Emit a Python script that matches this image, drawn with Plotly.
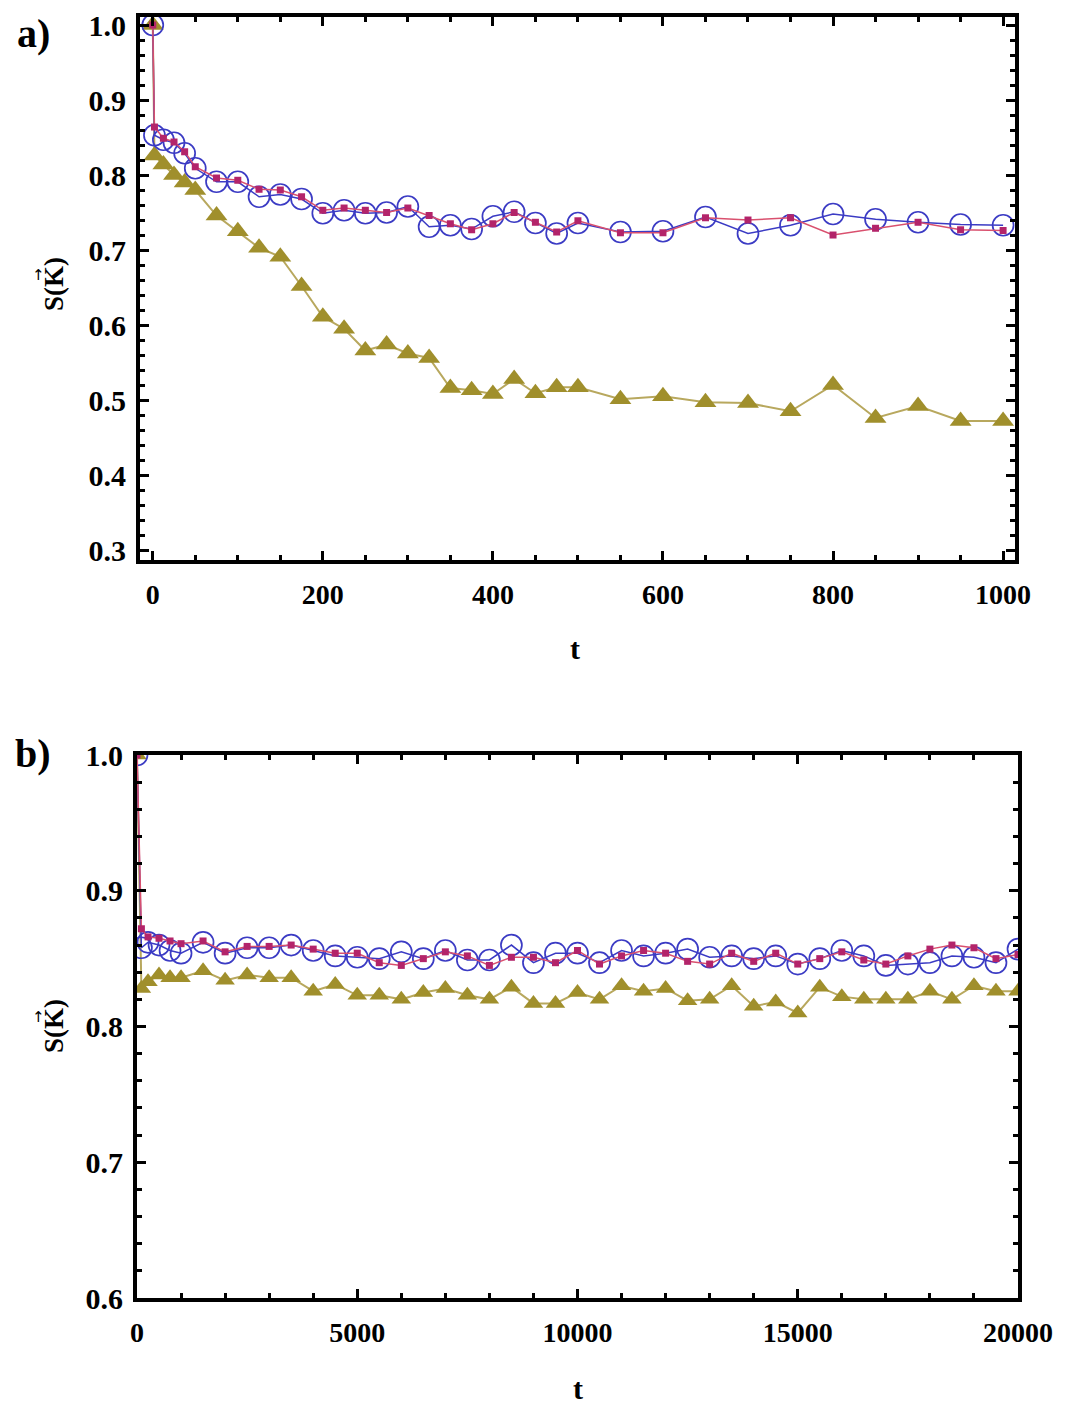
import plotly.graph_objects as go

# ---- panel (a): short-time relaxation, t in [0, 1000] ----
t_a = [0, 2, 12.5, 25, 37.5, 50, 75, 100, 125, 150, 175, 200, 225, 250, 275, 300,
       325, 350, 375, 400, 425, 450, 475, 500, 550, 600, 650, 700, 750, 800, 850,
       900, 950, 1000]
circ_a = [1.0, 0.853, 0.847, 0.843, 0.829, 0.809, 0.791, 0.791, 0.771, 0.774, 0.768,
          0.749, 0.753, 0.749, 0.750, 0.758, 0.731, 0.733, 0.728, 0.745, 0.751, 0.736,
          0.722, 0.736, 0.724, 0.725, 0.744, 0.722, 0.733, 0.748, 0.741, 0.737, 0.734,
          0.733]
sq_a = [1.0, 0.864, 0.849, 0.844, 0.831, 0.811, 0.796, 0.793, 0.781, 0.780, 0.771,
        0.753, 0.756, 0.753, 0.750, 0.756, 0.746, 0.735, 0.727, 0.735, 0.750, 0.737,
        0.724, 0.739, 0.723, 0.723, 0.743, 0.740, 0.743, 0.720, 0.729, 0.737, 0.727,
        0.726]
tri_a = [1.0, 0.826, 0.814, 0.800, 0.790, 0.780, 0.746, 0.725, 0.703, 0.691, 0.652,
         0.611, 0.595, 0.566, 0.574, 0.562, 0.556, 0.516, 0.513, 0.508, 0.528, 0.509,
         0.517, 0.517, 0.501, 0.505, 0.497, 0.496, 0.485, 0.520, 0.476, 0.492, 0.472,
         0.472]

# ---- panel (b): long-time behaviour, t in [0, 20000] ----
t_b = [0, 100, 250, 500, 750, 1000, 1500, 2000, 2500, 3000, 3500, 4000, 4500, 5000,
       5500, 6000, 6500, 7000, 7500, 8000, 8500, 9000, 9500, 10000, 10500, 11000,
       11500, 12000, 12500, 13000, 13500, 14000, 14500, 15000, 15500, 16000, 16500,
       17000, 17500, 18000, 18500, 19000, 19500, 20000]
circ_b = [1.0, 0.858, 0.862, 0.860, 0.856, 0.854, 0.862, 0.854, 0.858, 0.858, 0.860,
          0.856, 0.852, 0.851, 0.850, 0.855, 0.850, 0.856, 0.849, 0.849, 0.860, 0.847,
          0.854, 0.854, 0.847, 0.856, 0.852, 0.854, 0.857, 0.851, 0.852, 0.850, 0.852,
          0.846, 0.850, 0.856, 0.852, 0.845, 0.846, 0.847, 0.852, 0.851, 0.847, 0.857]
sq_b = [1.0, 0.872, 0.866, 0.865, 0.863, 0.861, 0.863, 0.855, 0.859, 0.859, 0.860,
        0.857, 0.854, 0.854, 0.847, 0.845, 0.850, 0.855, 0.852, 0.845, 0.851, 0.851,
        0.847, 0.856, 0.846, 0.852, 0.856, 0.854, 0.848, 0.846, 0.854, 0.848, 0.854,
        0.846, 0.850, 0.855, 0.849, 0.846, 0.852, 0.857, 0.860, 0.858, 0.850, 0.853]
tri_b = [1.0, 0.828, 0.833, 0.838, 0.836, 0.836, 0.841, 0.834, 0.838, 0.836, 0.836,
         0.826, 0.831, 0.823, 0.823, 0.820, 0.825, 0.828, 0.823, 0.820, 0.829, 0.817,
         0.817, 0.825, 0.820, 0.830, 0.826, 0.828, 0.819, 0.820, 0.830, 0.815, 0.818,
         0.810, 0.829, 0.822, 0.820, 0.820, 0.820, 0.826, 0.820, 0.830, 0.826, 0.826]

W, H = 1073, 1407
BLUE = "#3b3bc4"
MAG = "#b3246a"
MAG_LINE = "#d9506e"
OLIVE = "#a08f2c"
OLIVE_LINE = "#b8a85e"
SERIF = "Liberation Serif"

fig = go.Figure()


def add_panel(t, circ, sq, tri, xa, ya, circ_size, tri_size):
    fig.add_trace(go.Scatter(
        x=t, y=tri, xaxis=xa, yaxis=ya, mode="lines+markers",
        line=dict(color=OLIVE_LINE, width=2),
        marker=dict(symbol="triangle-up", size=tri_size, color=OLIVE),
        showlegend=False, cliponaxis=True))
    fig.add_trace(go.Scatter(
        x=t, y=circ, xaxis=xa, yaxis=ya, mode="lines+markers",
        line=dict(color=BLUE, width=1.5),
        marker=dict(symbol="circle-open", size=circ_size, color=BLUE,
                    line=dict(width=1.7, color=BLUE)),
        showlegend=False, cliponaxis=True))
    fig.add_trace(go.Scatter(
        x=t, y=sq, xaxis=xa, yaxis=ya, mode="lines+markers",
        line=dict(color=MAG_LINE, width=1.5),
        marker=dict(symbol="square", size=7, color=MAG),
        showlegend=False, cliponaxis=True))


add_panel(t_a, circ_a, sq_a, tri_a, "x", "y", 21, 19)
add_panel(t_b, circ_b, sq_b, tri_b, "x2", "y2", 21, 17)


def px_x(p):
    return p / W


def px_y(p):
    return 1 - p / H


x_tick_font = dict(family=SERIF, size=28, color="black", weight="bold")
y_tick_font = dict(family=SERIF, size=30, color="black", weight="bold")

common_axis = dict(
    showline=True, linecolor="black", linewidth=4, mirror="allticks",
    ticks="inside", ticklen=9, tickwidth=3, tickcolor="black",
    showgrid=False, zeroline=False, automargin=False,
)

fig.update_layout(
    template="none",
    width=W, height=H,
    margin=dict(l=0, r=0, t=0, b=0, autoexpand=False),
    paper_bgcolor="white", plot_bgcolor="white",
    xaxis=dict(domain=[px_x(140), px_x(1015)], range=[-15, 1014], anchor="y",
               tickmode="linear", tick0=0, dtick=200, tickformat="d",
               minor=dict(dtick=50, ticks="inside", ticklen=5, tickwidth=3,
                          tickcolor="black", showgrid=False),
               ticklabelstandoff=6, tickfont=x_tick_font, **common_axis),
    yaxis=dict(domain=[px_y(560), px_y(17)], range=[0.2867, 1.0107], anchor="x",
               tickmode="linear", tick0=0.3, dtick=0.1, tickformat=".1f",
               minor=dict(dtick=0.02, ticks="inside", ticklen=5, tickwidth=3,
                          tickcolor="black", showgrid=False),
               ticklabelstandoff=4, tickfont=y_tick_font, **common_axis),
    xaxis2=dict(domain=[px_x(137), px_x(1018)], range=[0, 20000], anchor="y2",
                tickmode="linear", tick0=0, dtick=5000, tickformat="d",
                minor=dict(dtick=1000, ticks="inside", ticklen=5, tickwidth=3,
                           tickcolor="black", showgrid=False),
                ticklabelstandoff=6, tickfont=x_tick_font, **common_axis),
    yaxis2=dict(domain=[px_y(1298), px_y(755)], range=[0.6, 1.0], anchor="x2",
                tickmode="linear", tick0=0.6, dtick=0.1, tickformat=".1f",
                minor=dict(dtick=0.02, ticks="inside", ticklen=5, tickwidth=3,
                           tickcolor="black", showgrid=False),
                ticklabelstandoff=4, tickfont=y_tick_font, **common_axis),
)

ann_font = dict(family=SERIF, color="black", weight="bold")
annotations = [
    dict(text="a)", x=px_x(33), y=px_y(33), size=40),
    dict(text="b)", x=px_x(33), y=px_y(753), size=40),
    dict(text="t", x=px_x(575), y=px_y(648), size=30),
    dict(text="t", x=px_x(578), y=px_y(1388), size=30),
]
for a in annotations:
    fig.add_annotation(text=a["text"], x=a["x"], y=a["y"], xref="paper", yref="paper",
                       xanchor="center", yanchor="middle", showarrow=False,
                       font=dict(ann_font, size=a["size"]))

# rotated axis title S(K) with a vector arrow drawn over the K
for yc in (284, 1026):
    fig.add_annotation(text="S(K)", x=px_x(54), y=px_y(yc), xref="paper", yref="paper",
                       xanchor="center", yanchor="middle", showarrow=False, textangle=-90,
                       font=dict(ann_font, size=27))
    fig.add_annotation(text="\u2192", x=px_x(38), y=px_y(yc - 9), xref="paper",
                       yref="paper", xanchor="center", yanchor="middle", showarrow=False,
                       textangle=-90, font=dict(family="DejaVu Sans", size=15, color="black"))

fig.write_html("out.html")
